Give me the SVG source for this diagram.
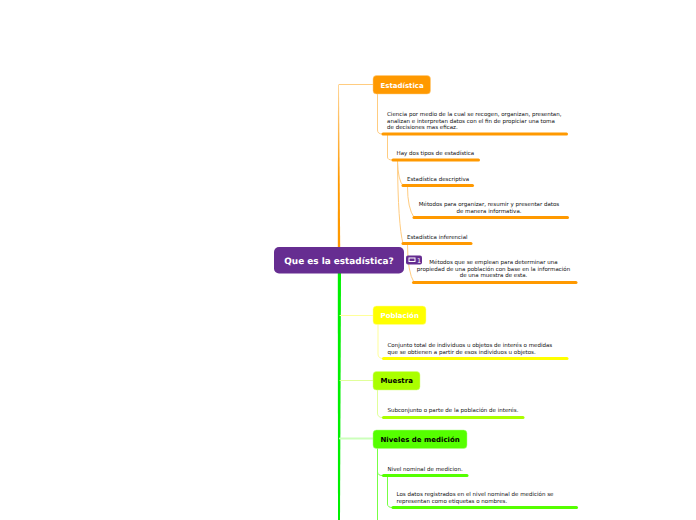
<svg xmlns="http://www.w3.org/2000/svg" width="696" height="520" viewBox="0 0 696 520">
<defs>
<linearGradient id="tr" gradientUnits="userSpaceOnUse" x1="0" y1="85" x2="0" y2="180"><stop offset="0" stop-color="#ffd699"/><stop offset="1" stop-color="#ff9900"/></linearGradient>
</defs>
<style>
text{font-family:"DejaVu Sans",Verdana,sans-serif;text-rendering:geometricPrecision}
.t{font-size:5.52px;fill:#111}
.h{font-size:7px;font-weight:bold}
.c{fill:none;stroke-linecap:round}
.m{text-anchor:middle}
.o{stroke:#ffcc80;stroke-width:1}
.y{stroke:#ffff99;stroke-width:1}
.l{stroke:#e0ff99;stroke-width:1}
.g{stroke:#77ff44;stroke-width:1}
.bo{stroke:#ff9900;stroke-width:3}
.by{stroke:#ffff00;stroke-width:3}
.bl{stroke:#aaff00;stroke-width:3}
.bg{stroke:#55ff00;stroke-width:3}
</style>
<rect width="696" height="520" fill="#fff"/>
<g id="connectors">
<path d="M373 84.500H339Q338.500 84.500 338.500 85" class="c" stroke="#ffcc80" stroke-width="1"/>
<path d="M338 85H339L340.200 248H337.800Z" fill="url(#tr)"/>
<path d="M337.800 273H341L340 520H338Z" fill="#00f000"/>
<path d="M373 315.500H340" class="c y"/>
<path d="M373 380.500H340" class="c l"/>
<path d="M373 438.500H340" class="c" stroke="#ccffbb" stroke-width="2"/>
<path d="M377.500 93V130Q377.500 134 382 134" class="c o"/>
<path d="M387.500 135V157Q387.500 160 392 160" class="c o"/>
<path d="M397.500 161Q398 181 403 185.500" class="c o"/>
<path d="M397.500 161Q398 225 403 243.500" class="c o"/>
<path d="M407.500 187Q407.500 208 414 217.500" class="c o"/>
<path d="M407.500 245Q407.500 272 414 282.500" class="c o"/>
<path d="M378 324V354Q378 358.500 383 358.500" class="c y"/>
<path d="M377.500 389V413Q377.500 417.500 382 417.500" class="c l"/>
<path d="M377.500 448V520" class="c g"/>
<path d="M377.500 472Q377.500 475.500 382 475.500" class="c g"/>
<path d="M387.500 477V504Q387.500 507.500 392 507.500" class="c g"/>
<path d="M383 134H566.500" class="c bo"/>
<path d="M393 160H478.500" class="c bo"/>
<path d="M403 185.500H472.500" class="c bo"/>
<path d="M414 217.500H567.500" class="c bo"/>
<path d="M403 243.500H471" class="c bo"/>
<path d="M413.500 282.500H576" class="c bo"/>
<path d="M383.500 358.500H567" class="c by"/>
<path d="M383.500 417.500H523" class="c bl"/>
<path d="M383.500 475.500H467" class="c bg"/>
<path d="M393 507.500H576.500" class="c bg"/>
</g>
<g id="root">
<rect x="274" y="247" width="130" height="26.500" rx="5" fill="#662d91"/>
<text x="339" y="264" class="m" font-size="8.900" font-weight="bold" fill="#fff">Que es la estadística?</text>
</g>
<g id="badge">
<rect x="406" y="255.500" width="16" height="9" rx="2" fill="#662d91"/>
<rect x="409" y="258" width="6" height="3.500" fill="none" stroke="#fff" stroke-width="1"/>
<text x="417" y="263" font-size="6.500" fill="#fff">1</text>
</g>
<g id="estadistica">
<rect x="373" y="75.500" width="57.500" height="18.500" rx="3.500" fill="#ff9900" stroke="#ffcc80" stroke-width=".5"/>
<text x="380.500" y="87.500" class="h" fill="#fff">Estadística</text>
</g>
<g id="definicion">
<text class="t"><tspan x="387" y="116">Ciencia por medio de la cual se recogen, organizan, presentan,</tspan><tspan x="387" y="122.500">analizan e interpretan datos con el fin de propiciar una toma</tspan><tspan x="387" y="129">de decisiones mas eficaz.</tspan></text>
</g>
<g id="tipos"><text x="396.500" y="155" class="t">Hay dos tipos de estadística</text></g>
<g id="descriptiva"><text x="407" y="181" class="t">Estadística descriptiva</text></g>
<g id="metodos1"><text class="t m"><tspan x="489" y="206">Métodos para organizar, resumir y presentar datos</tspan><tspan x="489" y="213">de manera informativa.</tspan></text></g>
<g id="inferencial"><text x="407" y="239" class="t">Estadística inferencial</text></g>
<g id="metodos2"><text class="t m"><tspan x="493.500" y="264">Métodos que se emplean para determinar una</tspan><tspan x="493.500" y="271">propiedad de una población con base en la información</tspan><tspan x="493.500" y="277">de una muestra de esta.</tspan></text></g>
<g id="poblacion">
<rect x="373" y="306" width="53" height="18.500" rx="3.500" fill="#ffff00" stroke="#ffff99" stroke-width=".5"/>
<text x="380.500" y="318" class="h" fill="#fff">Población</text>
</g>
<g id="conjunto"><text class="t"><tspan x="387.500" y="347">Conjunto total de individuos u objetos de interés o medidas</tspan><tspan x="387.500" y="354">que se obtienen a partir de esos individuos u objetos.</tspan></text></g>
<g id="muestra">
<rect x="373" y="371.500" width="47" height="18.500" rx="3.500" fill="#aaff00" stroke="#d5ff80" stroke-width=".5"/>
<text x="380.500" y="383" class="h" fill="#000">Muestra</text>
</g>
<g id="subconjunto"><text x="387.500" y="412" class="t">Subconjunto o parte de la población de interés.</text></g>
<g id="niveles">
<rect x="373" y="430" width="94" height="18.500" rx="3.500" fill="#55ff00" stroke="#aaff80" stroke-width=".5"/>
<text x="380.500" y="442" class="h" fill="#000">Niveles de medición</text>
</g>
<g id="nominal"><text x="387.500" y="471" class="t">Nivel nominal de medicion.</text></g>
<g id="datos"><text class="t"><tspan x="396.500" y="496">Los datos registrados en el nivel nominal de medición se</tspan><tspan x="396.500" y="503">representan como etiquetas o nombres.</tspan></text></g>
</svg>
